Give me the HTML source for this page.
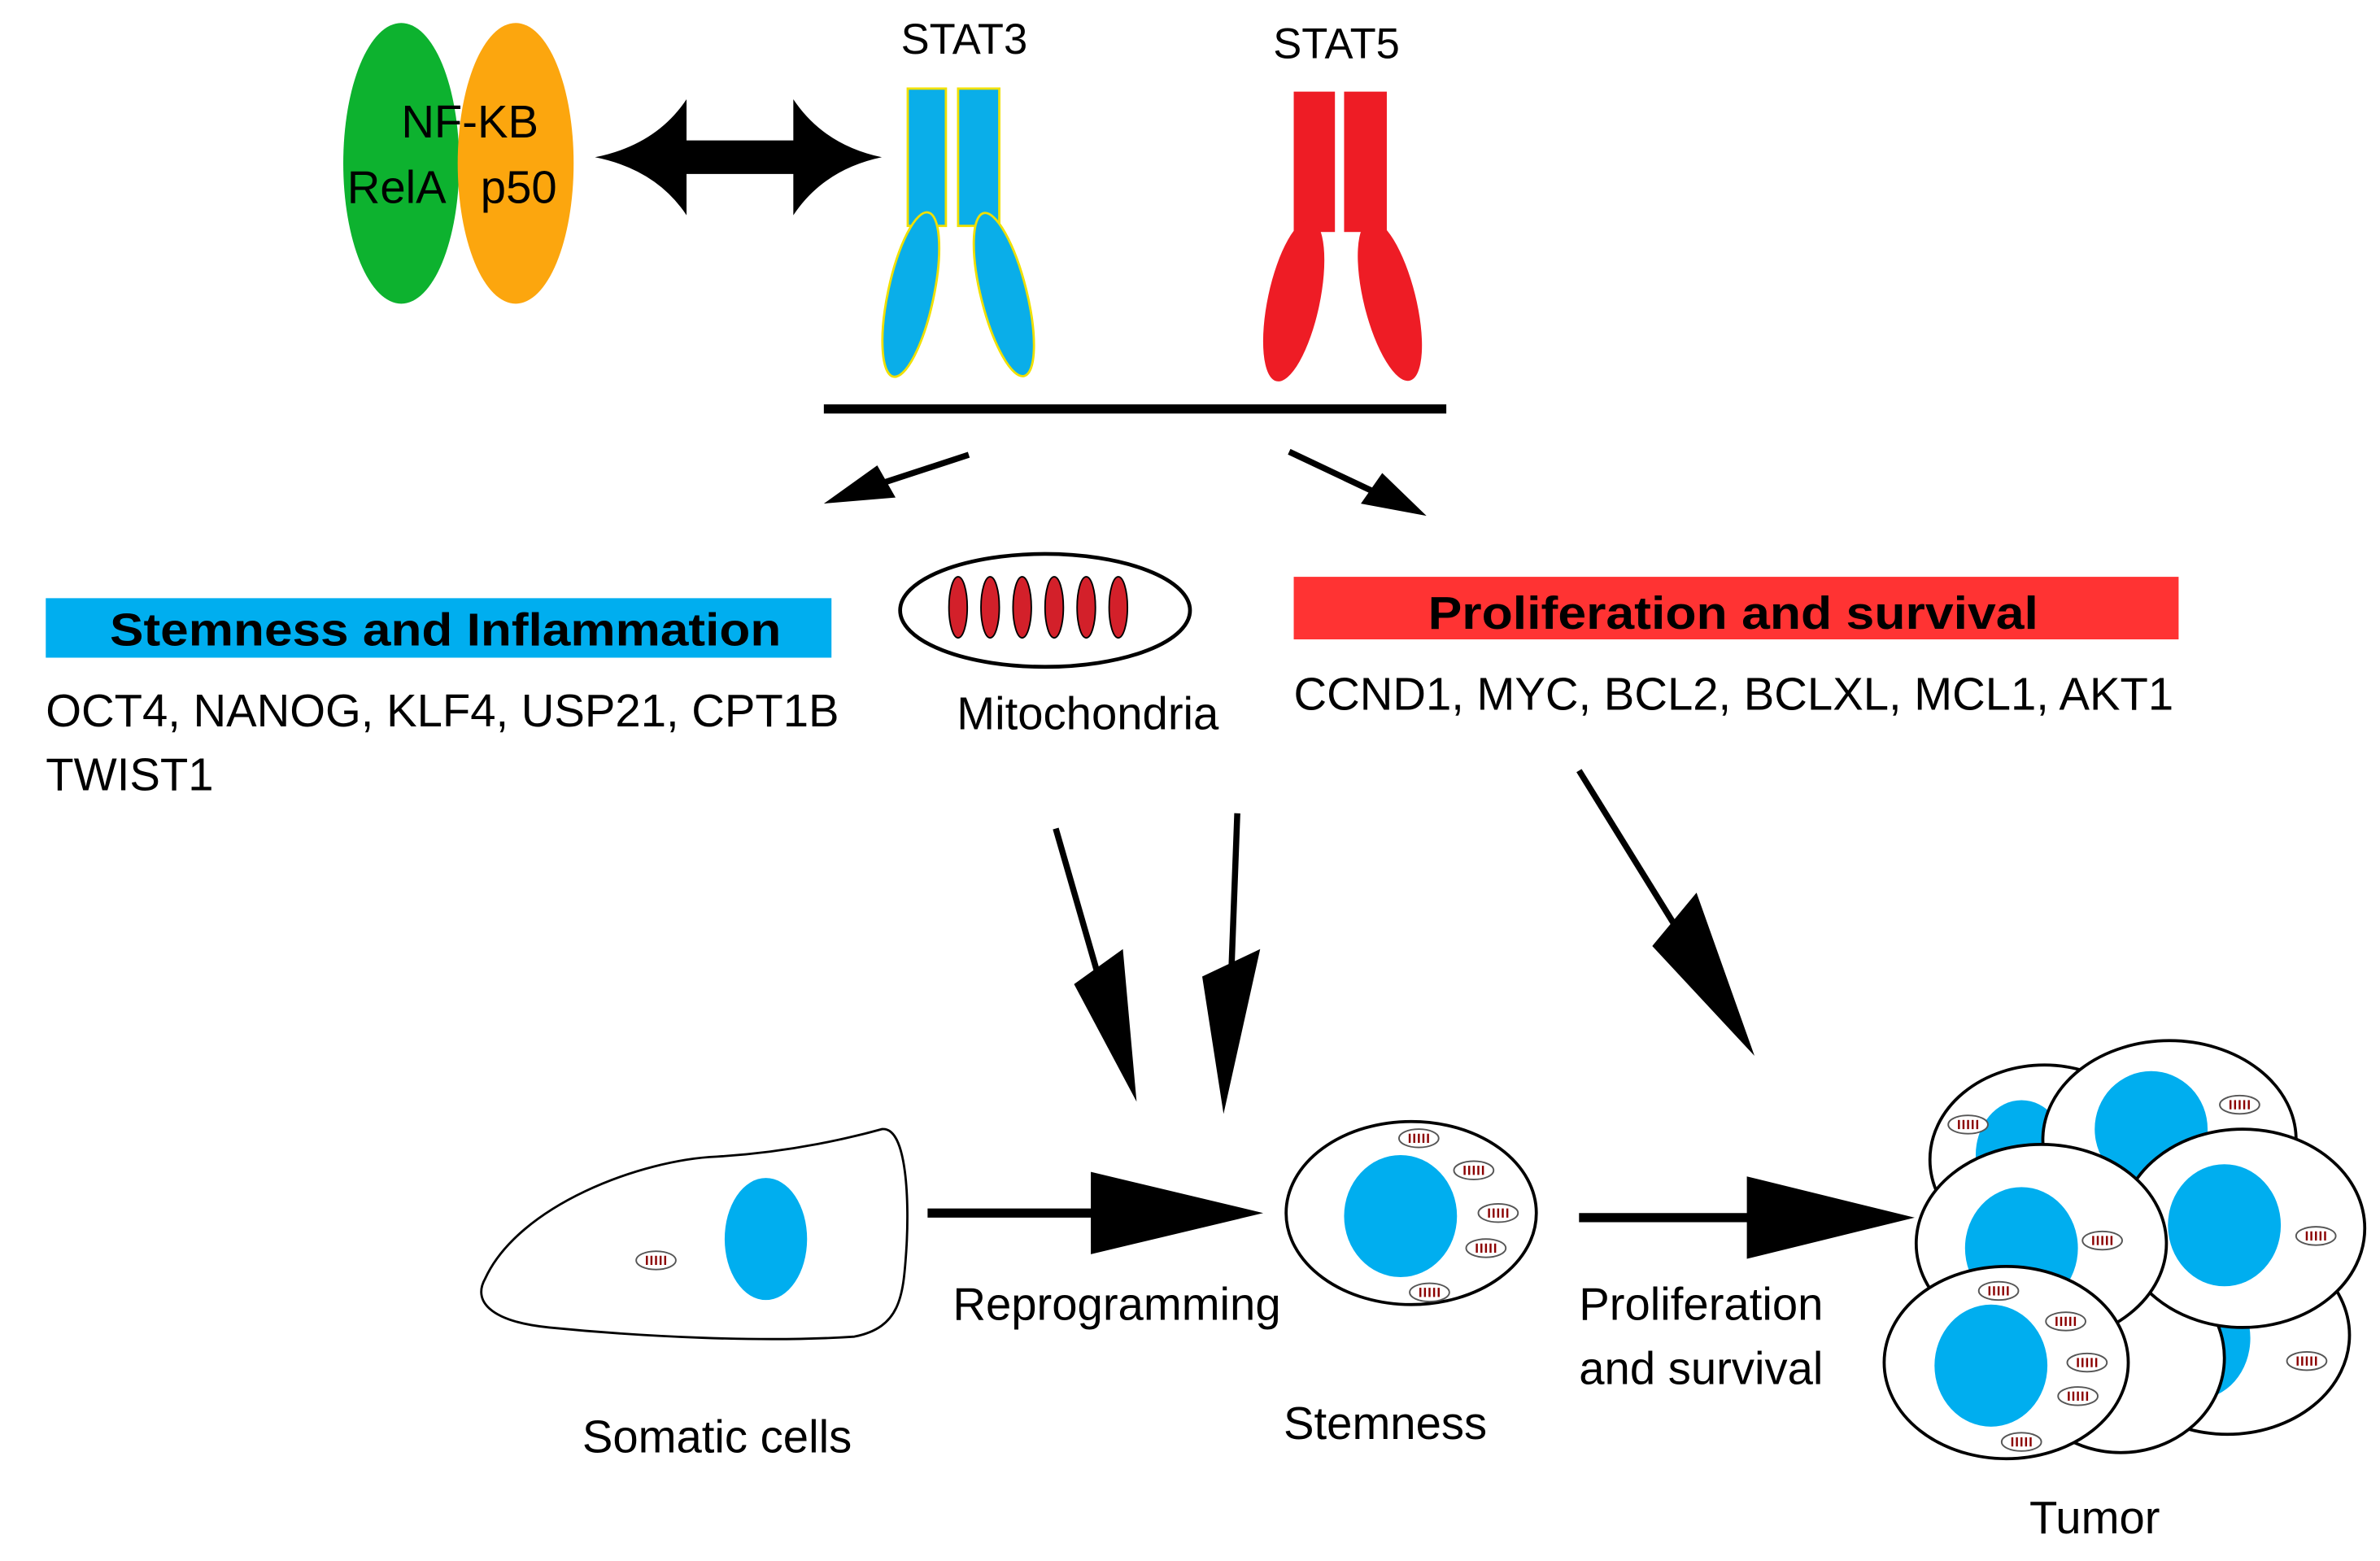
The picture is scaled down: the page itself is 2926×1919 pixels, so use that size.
<!DOCTYPE html>
<html><head><meta charset="utf-8"><style>
html,body{margin:0;padding:0;background:#fff;}
svg{display:block;}
text{font-family:"Liberation Sans",sans-serif;fill:#000;}
</style></head><body>
<svg width="2926" height="1919" viewBox="0 0 1560 1023" xmlns="http://www.w3.org/2000/svg">
<defs>
<g id="mito">
<ellipse cx="0" cy="0" rx="13" ry="6" fill="#fff" stroke="#555" stroke-width="1"/>
<g stroke="#8b0000" stroke-width="1.3"><line x1="-6" y1="-3" x2="-6" y2="3"/><line x1="-3" y1="-3" x2="-3" y2="3"/><line x1="0" y1="-3" x2="0" y2="3"/><line x1="3" y1="-3" x2="3" y2="3"/><line x1="6" y1="-3" x2="6" y2="3"/></g>
</g>
</defs>
<!-- NF-KB -->
<ellipse cx="263" cy="107" rx="38" ry="92" fill="#0db22f"/>
<ellipse cx="338" cy="107" rx="38" ry="92" fill="#fca60e"/>
<text x="308" y="90" font-size="30" text-anchor="middle">NF-KB</text>
<text x="260" y="133" font-size="30" text-anchor="middle">RelA</text>
<text x="340" y="133" font-size="30" text-anchor="middle">p50</text>
<!-- double arrow -->
<path d="M390,103 Q430,95 450,65 L450,92 L520,92 L520,65 Q540,95 578,103 Q540,111 520,141 L520,114 L450,114 L450,141 Q430,111 390,103 Z" fill="#000"/>
<!-- STAT3 -->
<text x="632" y="35" font-size="28" text-anchor="middle">STAT3</text>
<rect x="595" y="58" width="25" height="90" fill="#0aaee9" stroke="#f0e000" stroke-width="1.5"/>
<rect x="628" y="58" width="27" height="90" fill="#0aaee9" stroke="#f0e000" stroke-width="1.5"/>
<ellipse cx="597" cy="193" rx="15" ry="55" fill="#0aaee9" stroke="#f0e000" stroke-width="1.5" transform="rotate(12 597 193)"/>
<ellipse cx="658" cy="193" rx="15" ry="55" fill="#0aaee9" stroke="#f0e000" stroke-width="1.5" transform="rotate(-14 658 193)"/>
<!-- STAT5 -->
<text x="876" y="38" font-size="28" text-anchor="middle">STAT5</text>
<rect x="848" y="60" width="27" height="92" fill="#ee1c25"/>
<rect x="881" y="60" width="28" height="92" fill="#ee1c25"/>
<ellipse cx="848" cy="197" rx="17" ry="54" fill="#ee1c25" transform="rotate(12 848 197)"/>
<ellipse cx="911" cy="197" rx="17" ry="54" fill="#ee1c25" transform="rotate(-14 911 197)"/>
<line x1="540" y1="268" x2="948" y2="268" stroke="#000" stroke-width="6"/>
<!-- small arrows -->
<line x1="635" y1="298" x2="580" y2="316" stroke="#000" stroke-width="4"/>
<polygon points="540,330 575,305 587,326" fill="#000"/>
<line x1="845" y1="296" x2="900" y2="322" stroke="#000" stroke-width="4"/>
<polygon points="935,338 892,330 906,310" fill="#000"/>
<!-- boxes -->
<rect x="30" y="392" width="515" height="39" fill="#00aeef"/>
<text x="72" y="423" font-size="30" font-weight="bold" textLength="440" lengthAdjust="spacingAndGlyphs">Stemness and Inflammation</text>
<text x="30" y="476" font-size="30">OCT4, NANOG, KLF4, USP21, CPT1B</text>
<text x="30" y="518" font-size="30">TWIST1</text>
<ellipse cx="685" cy="400" rx="95" ry="37" fill="#fff" stroke="#000" stroke-width="2.5"/>
<g fill="#d3202a" stroke="#000" stroke-width="1">
<ellipse cx="628" cy="398" rx="6" ry="20"/><ellipse cx="649" cy="398" rx="6" ry="20"/><ellipse cx="670" cy="398" rx="6" ry="20"/><ellipse cx="691" cy="398" rx="6" ry="20"/><ellipse cx="712" cy="398" rx="6" ry="20"/><ellipse cx="733" cy="398" rx="6" ry="20"/>
</g>
<text x="713" y="478" font-size="30" text-anchor="middle">Mitochondria</text>
<rect x="848" y="378" width="580" height="41" fill="#ff3333"/>
<text x="936" y="412" font-size="30" font-weight="bold" textLength="400" lengthAdjust="spacingAndGlyphs">Proliferation and survival</text>
<text x="848" y="465" font-size="30">CCND1, MYC, BCL2, BCLXL, MCL1, AKT1</text>
<!-- big arrows -->
<line x1="692" y1="543" x2="720" y2="640" stroke="#000" stroke-width="4"/>
<polygon points="745,722 704,645 736,622" fill="#000"/>
<line x1="811" y1="533" x2="807" y2="640" stroke="#000" stroke-width="4"/>
<polygon points="802,730 788,640 826,622" fill="#000"/>
<line x1="1035" y1="505" x2="1100" y2="610" stroke="#000" stroke-width="4"/>
<polygon points="1150,692 1083,620 1112,585" fill="#000"/>
<!-- somatic cell -->
<path d="M318,838 C340,790 420,760 470,758 C520,755 560,745 578,740 C595,738 596,790 594,820 C592,850 590,870 560,876 C500,880 420,876 360,870 C320,866 310,852 318,838 Z" fill="#fff" stroke="#000" stroke-width="1.5"/>
<ellipse cx="502" cy="812" rx="27" ry="40" fill="#00aeef"/>
<use href="#mito" x="430" y="826"/>
<text x="470" y="952" font-size="30" text-anchor="middle">Somatic cells</text>
<line x1="608" y1="795" x2="720" y2="795" stroke="#000" stroke-width="6"/>
<polygon points="828,795 715,768 715,822" fill="#000"/>
<text x="732" y="865" font-size="30" text-anchor="middle">Reprogramming</text>
<!-- stem cell -->
<ellipse cx="925" cy="795" rx="82" ry="60" fill="#fff" stroke="#000" stroke-width="2"/>
<ellipse cx="918" cy="797" rx="37" ry="40" fill="#00aeef"/>
<use href="#mito" x="930" y="746"/><use href="#mito" x="966" y="767"/><use href="#mito" x="982" y="795"/><use href="#mito" x="974" y="818"/><use href="#mito" x="937" y="847"/>
<text x="908" y="943" font-size="30" text-anchor="middle">Stemness</text>
<line x1="1035" y1="798" x2="1150" y2="798" stroke="#000" stroke-width="6"/>
<polygon points="1255,798 1145,771 1145,825" fill="#000"/>
<text x="1115" y="865" font-size="30" text-anchor="middle">Proliferation</text>
<text x="1115" y="907" font-size="30" text-anchor="middle">and survival</text>
<!-- tumor -->
<g stroke="#000" stroke-width="2">
<ellipse cx="1340" cy="760" rx="75" ry="62" fill="#fff"/>
<ellipse cx="1325" cy="757" rx="30" ry="36" fill="#00aeef" stroke="none"/>
<ellipse cx="1460" cy="875" rx="80" ry="65" fill="#fff"/>
<ellipse cx="1440" cy="877" rx="35" ry="40" fill="#00aeef" stroke="none"/>
<ellipse cx="1390" cy="890" rx="68" ry="62" fill="#fff"/>
<ellipse cx="1422" cy="747" rx="83" ry="65" fill="#fff"/>
<ellipse cx="1410" cy="740" rx="37" ry="38" fill="#00aeef" stroke="none"/>
<ellipse cx="1470" cy="805" rx="80" ry="65" fill="#fff"/>
<ellipse cx="1458" cy="803" rx="37" ry="40" fill="#00aeef" stroke="none"/>
<ellipse cx="1338" cy="815" rx="82" ry="65" fill="#fff"/>
<ellipse cx="1325" cy="818" rx="37" ry="40" fill="#00aeef" stroke="none"/>
<ellipse cx="1315" cy="893" rx="80" ry="63" fill="#fff"/>
<ellipse cx="1305" cy="895" rx="37" ry="40" fill="#00aeef" stroke="none"/>
</g>
<use href="#mito" x="1290" y="737"/><use href="#mito" x="1468" y="724"/><use href="#mito" x="1378" y="813"/><use href="#mito" x="1518" y="810"/><use href="#mito" x="1310" y="846"/><use href="#mito" x="1354" y="866"/><use href="#mito" x="1368" y="893"/><use href="#mito" x="1362" y="915"/><use href="#mito" x="1325" y="945"/><use href="#mito" x="1512" y="892"/>
<text x="1373" y="1005" font-size="30" text-anchor="middle">Tumor</text>
</svg>
</body></html>
